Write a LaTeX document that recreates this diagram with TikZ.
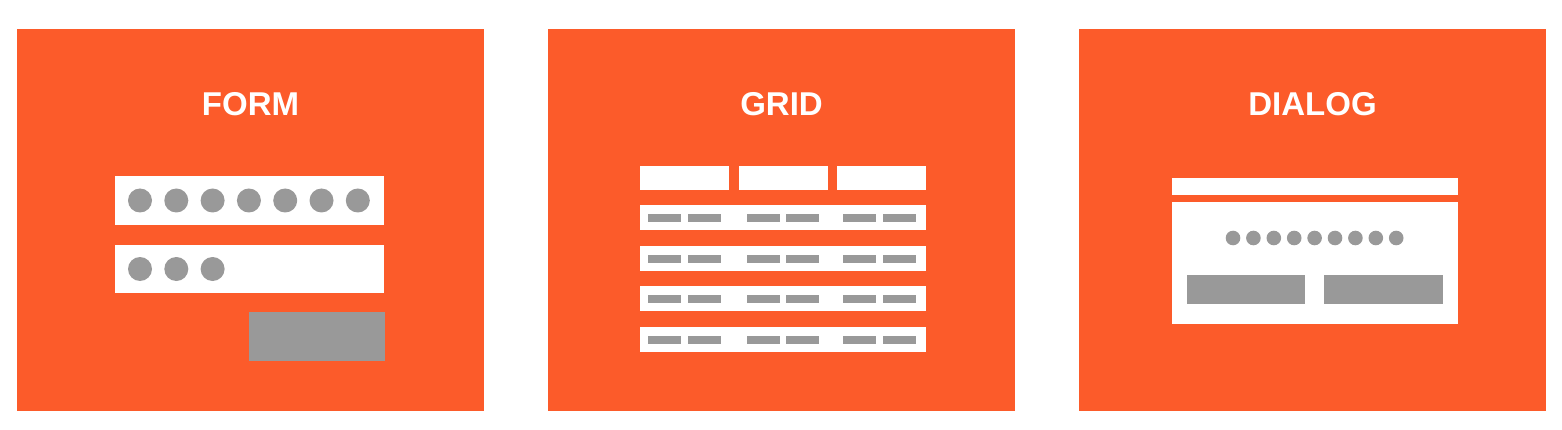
\documentclass[tikz,border=0pt]{standalone}
\usepackage{fontspec}
\setmainfont{Liberation Sans}
\definecolor{panelorange}{HTML}{FC5B2A}
\definecolor{widgetgrey}{HTML}{999999}
\tikzset{
  panel/.style={fill=panelorange},
  field/.style={fill=white},
  knob/.style={fill=widgetgrey},
  title/.style={text=white, font=\fontsize{33}{33}\selectfont\bfseries, anchor=base, inner sep=0pt}
}
\begin{document}
\begin{tikzpicture}[x=1pt,y=-1pt]
\useasboundingbox (0,0) rectangle (1562,430);

% panels
\fill[panel] (17,29) rectangle (484,411);
\fill[panel] (548,29) rectangle (1015,411);
\fill[panel] (1079,29) rectangle (1546,411);

\node[title] (formtitle) at (250.5,116) {FORM};
\node[title] (gridtitle) at (781.5,116) {GRID};
\node[title] (dialogtitle) at (1312.5,116) {DIALOG};

% form
\fill[field] (115,176) rectangle (384,225);
\fill[field] (115,245) rectangle (384,293);
\foreach \i in {0,...,6}
  \fill[knob] (140+36.3*\i,200.5) circle (12pt);
\foreach \i in {0,...,2}
  \fill[knob] (140+36.3*\i,269) circle (12pt);
\fill[knob] (249,312) rectangle (385,361);

% grid
\foreach \x in {640,739,837}
  \fill[field] (\x,166) rectangle ++(89,24);
\foreach \y in {205,245.7,286.3,327}{
  \fill[field] (640,\y) rectangle ++(286,25);
  \foreach \x in {648,688,747,786,843,883}
    \fill[knob] (\x,\y+9) rectangle ++(33,8);
}

% dialog
\fill[field] (1172,178) rectangle (1458,195);
\fill[field] (1172,202) rectangle (1458,324);
\foreach \i in {0,...,8}
  \fill[knob] (1233+20.4*\i,238) circle (7.3pt);
\fill[knob] (1187,275) rectangle (1305,304);
\fill[knob] (1324,275) rectangle (1443,304);
\end{tikzpicture}
\end{document}
